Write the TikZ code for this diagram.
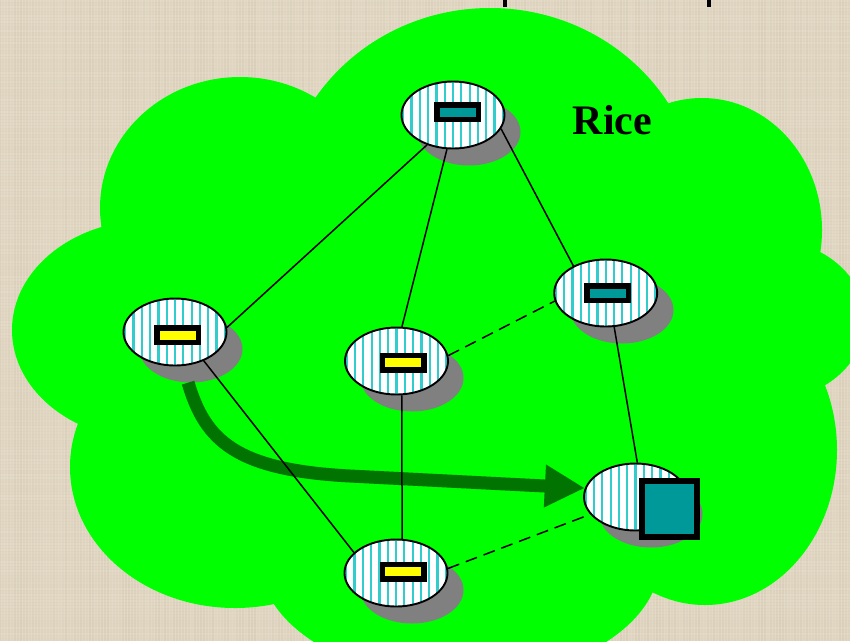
\documentclass[tikz,border=0pt]{standalone}
\usepackage{fontspec}
\setmainfont{Liberation Serif}
\usetikzlibrary{arrows.meta,shapes.geometric}
\definecolor{bgc}{RGB}{225,215,195}
\definecolor{bgdark}{RGB}{196,184,160}
\definecolor{bglight}{RGB}{238,230,214}
\definecolor{cloudc}{RGB}{0,255,0}
\definecolor{stripec}{RGB}{51,204,204}
\definecolor{tealc}{RGB}{0,153,153}
\definecolor{shadowc}{RGB}{128,128,128}
\definecolor{arrowc}{RGB}{0,115,0}
\definecolor{yelc}{RGB}{255,255,0}
\tikzset{
  router/.style={ellipse, draw=black, line width=1.9pt, fill=white,
    minimum width=103pt, minimum height=67pt, inner sep=0pt,
    path picture={\foreach \k in {-6,...,6}{\fill[stripec]
      ([xshift=\k*8.3pt-1.1pt,yshift=-40pt]path picture bounding box.center) rectangle ++(2.2pt,80pt);}}},
  rshadow/.style={ellipse, fill=shadowc, minimum width=103pt, minimum height=67pt, inner sep=0pt},
  slot/.style={rectangle, draw=black, line width=5.5pt, minimum width=41.5pt,
    minimum height=14.5pt, inner sep=0pt},
  link/.style={draw=black, line width=1.5pt},
  dlink/.style={link, dash pattern=on 12pt off 7pt},
  lobe/.style={fill=cloudc},
  tick/.style={draw=black, line width=4pt},
  flow/.style={draw=arrowc, line width=13pt, -{Triangle[length=40pt,width=40pt]}},
}
\begin{document}
\begin{tikzpicture}[x=1pt,y=-1pt]
\clip (0,0) rectangle (850,641);
\fill[bgc] (0,0) rectangle (850,641);
% linen texture
\pgfmathsetseed{7}
\foreach \i in {0,3,...,849}{
  \pgfmathsetmacro{\op}{0.08+0.22*rnd}
  \draw[bgdark, line width=1.2pt, opacity=\op] (\i,0) -- (\i,641);
}
\foreach \j in {1,4,...,640}{
  \pgfmathsetmacro{\op}{0.08+0.22*rnd}
  \draw[bglight, line width=1.2pt, opacity=\op] (0,\j) -- (850,\j);
}
% cloud
\fill[lobe] (240,208) ellipse [x radius=140, y radius=131];
\fill[lobe] (490,210) ellipse [x radius=210, y radius=202];
\fill[lobe] (702,230) ellipse [x radius=120, y radius=132];
\fill[lobe] (770,320) ellipse [x radius=95, y radius=80];
\fill[lobe] (705,450) ellipse [x radius=132, y radius=155];
\fill[lobe] (460,560) ellipse [x radius=200, y radius=120];
\fill[lobe] (235,467) ellipse [x radius=165, y radius=141];
\fill[lobe] (150,330) ellipse [x radius=138, y radius=110];
\fill[lobe] (450,380) ellipse [x radius=300, y radius=220];
% ticks at top
\coordinate (t1a) at (505,0); \coordinate (t1b) at (505,7);
\coordinate (t2a) at (709,0); \coordinate (t2b) at (709,7);
\draw[tick] (t1a) -- (t1b);
\draw[tick] (t2a) -- (t2b);
% shadows
\node[rshadow] (As) at (469,132) {};
\node[rshadow] (Bs) at (191,349) {};
\node[rshadow] (Cs) at (412,378) {};
\node[rshadow] (Ds) at (622,310) {};
\node[rshadow] (Es) at (412,590) {};
\node[rshadow] (Fs) at (651,514) {};
% router positions
\path (453,115) coordinate (Ac) (175,332) coordinate (Bc) (396.5,361) coordinate (Cc)
      (605.7,293) coordinate (Dc) (396,573) coordinate (Ec) (635.5,497) coordinate (Fc);
\node[router, draw=none, fill=none, path picture={}] (A) at (Ac) {};
\node[router, draw=none, fill=none, path picture={}] (B) at (Bc) {};
\node[router, draw=none, fill=none, path picture={}] (C) at (Cc) {};
\node[router, draw=none, fill=none, path picture={}] (D) at (Dc) {};
\node[router, draw=none, fill=none, path picture={}] (E) at (Ec) {};
\node[router, draw=none, fill=none, path picture={}] (F) at (Fc) {};
% flow arrow
\draw[flow] (Bs.265) .. controls (205,440) and (235,470) .. (350,476) -- (F.170);
% links
\draw[link] (B.5) -- (A.229);
\draw[link] (A.260) -- (C.81);
\draw[link] (A.-16) -- (D.140);
\draw[link] (B.-45) -- (E.154);
\draw[link] (C.-81) -- (E.80);
\draw[dlink] (C.6) -- (D.189);
\draw[link] (D.-76) -- (F.87);
\draw[dlink] (E.5) -- (F.201);
% router bodies
\node[router] (A2) at (Ac) {};
\node[router] (B2) at (Bc) {};
\node[router] (C2) at (Cc) {};
\node[router] (D2) at (Dc) {};
\node[router] (E2) at (Ec) {};
\node[router] (F2) at (Fc) {};
% slots
\node[slot, fill=tealc] (Ar) at (457.7,112.3) {};
\node[slot, fill=yelc] (Br) at (177.5,335.3) {};
\node[slot, fill=yelc] (Cr) at (403,362.7) {};
\node[slot, fill=tealc] (Dr) at (607.7,293.3) {};
\node[slot, fill=yelc] (Er) at (403,571.7) {};
% host square
\node[rectangle, draw=black, line width=6pt, fill=tealc, minimum width=55pt,
      minimum height=56pt, inner sep=0pt] (Fsq) at (669.5,509.2) {};
% label
\node[anchor=base, inner sep=0pt, font=\fontsize{42}{50}\selectfont\bfseries] (rice) at (612.5,134) {Rice};
\end{tikzpicture}
\end{document}
